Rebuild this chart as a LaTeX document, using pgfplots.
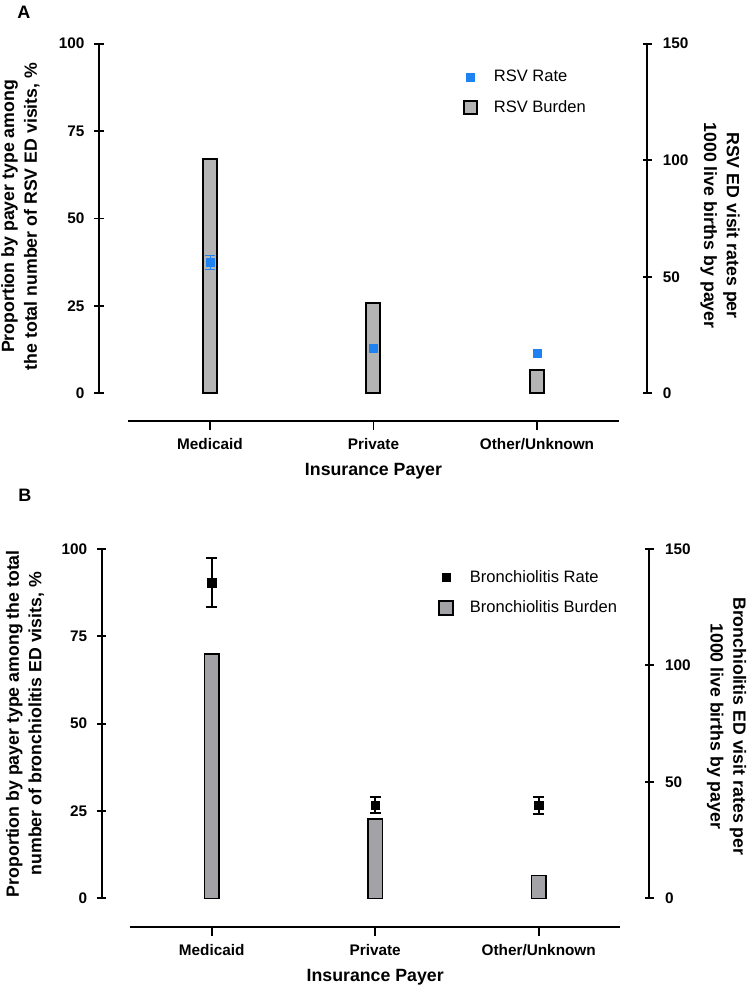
\documentclass[border=0pt]{standalone}
\usepackage{fontspec}
\setmainfont{Liberation Sans}
\usepackage{pgfplots}
\pgfplotsset{compat=1.18}
\definecolor{rsvblue}{RGB}{30,130,240}
\definecolor{barA}{RGB}{180,180,180}
\definecolor{barB}{RGB}{163,163,167}
\tikzset{lab/.style={font=\bfseries\fontsize{13.3}{17}\selectfont, align=center}}
\pgfplotsset{
  base/.style={scale only axis, ymin=0, axis x line=none, xtick=\empty,
    axis line style={-, line width=1.4pt, black},
    tick style={line width=1.4pt, black},
    major tick length=6.75pt, tick align=outside,
    tick label style={font=\bfseries\fontsize{11.5}{13}\selectfont},
    /pgf/number format/assume math mode=true},
  xax/.style={scale only axis, anchor=south west, width=367.875pt, height=10pt,
    xmin=-0.5, xmax=2.5, ymin=0, ymax=1, axis x line=bottom, axis y line=none, ytick=\empty,
    axis line style={-, line width=1.4pt, black}, xtick={0,1,2},
    xticklabels={Medicaid,Private,Other/Unknown},
    major tick length=6.5pt, tick align=outside, tick style={line width=1.4pt, black},
    tick label style={font=\bfseries\fontsize{11.5}{13}\selectfont},
    xticklabel style={yshift=-3pt},
    xlabel={Insurance Payer},
    xlabel style={font=\bfseries\fontsize{13.3}{16}\selectfont, yshift=-3pt},
    x axis line style={-}},
  leg/.style={legend style={draw=none, fill=none, anchor=north west,
    font=\fontsize{12.4}{14}\selectfont, row sep=8.5pt, column sep=10pt},
    legend cell align=left}
}
\begin{document}
\begin{tikzpicture}
% ---------------- Panel A ----------------
\node[anchor=west, inner sep=0, font=\bfseries\fontsize{13.5}{15}\selectfont] at (12.75pt,-9.375pt) {A};
\begin{axis}[base, at={(74.25pt,-294.975pt)}, anchor=south west, width=411pt, height=262.2pt,
  xmin=-0.679, xmax=2.673, ymax=100, axis y line=left, ytick={0,25,50,75,100},
  yticklabel style={xshift=-4pt},
  ylabel={Proportion by payer type among\\the total number of RSV ED visits, \%},
  every axis y label/.style={at={(rel axis cs:0,0.5)}, xshift=-58.9pt, yshift=1.5pt, rotate=90, anchor=center, lab},
  y axis line style={-}]
\addplot[ybar, bar width=10.5pt, fill=barA, draw=black, line width=1.5pt]
  coordinates {(0,67.0) (1,25.7) (2,6.7)};
\end{axis}
\begin{axis}[base, leg, at={(74.25pt,-294.975pt)}, anchor=south west, width=411pt, height=262.2pt,
  xmin=-0.679, xmax=2.673, ymax=150, axis y line=right, ytick={0,50,100,150},
  yticklabel style={xshift=5pt},
  ylabel={RSV ED visit rates per\\1000 live births by payer},
  every axis y label/.style={at={(rel axis cs:1,0.5)}, xshift=54.75pt, yshift=-5.25pt, rotate=-90, anchor=center, lab},
  legend style={at={(rel axis cs:0.656,0.94)}},
  y axis line style={-}]
\addplot[only marks, mark=square*, mark size=3pt, color=rsvblue,
  error bars/.cd, y dir=both, y explicit,
  error bar style={line width=0.75pt, rsvblue},
  error mark options={rotate=90, mark size=3.4pt, line width=0.75pt, rsvblue}]
  coordinates {(0,56.1) +- (0,2.9)};
\addlegendentry{RSV Rate}
\addplot[only marks, mark=square*, mark size=3pt, color=rsvblue, forget plot]
  coordinates {(1,19.3) (2,17.2)};
\addlegendimage{legend image code/.code={\draw[fill=barA, draw=black, line width=1.5pt] ({0.3cm-4.9pt},-4.9pt) rectangle ({0.3cm+4.9pt},4.9pt);}}
\addlegendentry{RSV Burden}
\end{axis}
\begin{axis}[xax, at={(96.1875pt,-315.75pt)}]
\addplot[draw=none] coordinates {(0,0.5)};
\end{axis}
% ---------------- Panel B ----------------
\node[anchor=west, inner sep=0, font=\bfseries\fontsize{13.5}{15}\selectfont] at (13.5pt,-371.25pt) {B};
\begin{axis}[base, at={(76.275pt,-673.725pt)}, anchor=south west, width=410.7pt, height=262pt,
  xmin=-0.673, xmax=2.676, ymax=100, axis y line=left, ytick={0,25,50,75,100},
  yticklabel style={xshift=-4pt},
  ylabel={Proportion by payer type among the total\\number of bronchiolitis ED visits, \%},
  every axis y label/.style={at={(rel axis cs:0,0.5)}, xshift=-57.5pt, rotate=90, anchor=center, lab},
  y axis line style={-}]
\addplot[ybar, bar width=11pt, fill=barB, draw=black, line width=1.1pt]
  coordinates {(0,69.9) (1,22.7) (2,6.5)};
\end{axis}
\begin{axis}[base, leg, at={(76.275pt,-673.725pt)}, anchor=south west, width=410.7pt, height=262pt,
  xmin=-0.673, xmax=2.676, ymax=150, axis y line=right, ytick={0,50,100,150},
  yticklabel style={xshift=5pt},
  ylabel={Bronchiolitis ED visit rates per\\1000 live births by payer},
  every axis y label/.style={at={(rel axis cs:1,0.5)}, xshift=58pt, yshift=-2pt, rotate=-90, anchor=center, lab},
  legend style={at={(rel axis cs:0.607,0.955)}},
  y axis line style={-}]
\addplot[only marks, mark=square*, mark size=3.1pt, color=black,
  error bars/.cd, y dir=both, y explicit,
  error bar style={line width=1.3pt, black},
  error mark options={rotate=90, mark size=4pt, line width=1.3pt, black}]
  coordinates {(0,135.5) +- (0,10.5) (1,40.0) +- (0,3.4) (2,39.8) +- (0,3.6)};
\addlegendentry{Bronchiolitis Rate}
\addlegendimage{legend image code/.code={\draw[fill=barB, draw=black, line width=1.3pt] ({0.3cm-5.2pt},-5.2pt) rectangle ({0.3cm+5.2pt},5.2pt);}}
\addlegendentry{Bronchiolitis Burden}
\end{axis}
\begin{axis}[xax, at={(97.4625pt,-695.475pt)}]
\addplot[draw=none] coordinates {(0,0.5)};
\end{axis}
\pgfresetboundingbox
\path[use as bounding box] (0,0) rectangle (562.5pt,-738.75pt);
\end{tikzpicture}
\end{document}
